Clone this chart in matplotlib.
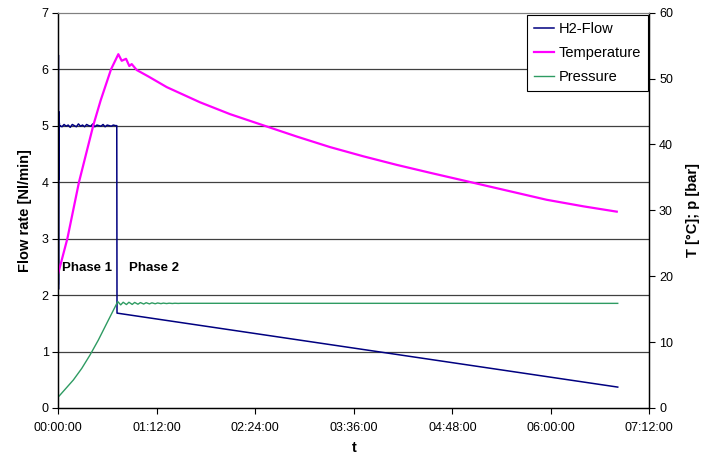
import numpy as np
import matplotlib
matplotlib.use("Agg")
import matplotlib.pyplot as plt

plt.rcParams['font.family'] = ['Liberation Sans', 'DejaVu Sans']

# time in hours
flow_t = [0.0, 0.001, 0.002, 0.004, 0.006, 0.008, 0.010, 0.012, 0.015,
          0.02, 0.045, 0.07, 0.095, 0.12, 0.145, 0.17, 0.195, 0.22, 0.245,
          0.27, 0.295, 0.32, 0.345, 0.37, 0.395, 0.42, 0.445, 0.47, 0.495,
          0.52, 0.545, 0.57, 0.595, 0.62, 0.645, 0.67, 0.695, 0.712,
          0.715, 6.815]
flow = [2.2, 6.25, 2.1, 5.25, 4.05, 5.1, 4.95, 5.05, 4.98,
        5.0, 4.98, 5.02, 4.99, 5.01, 4.97, 5.02, 5.0, 4.98, 5.03,
        4.99, 5.01, 4.98, 5.02, 5.0, 4.99, 5.03, 4.98, 5.01, 5.0,
        4.99, 5.02, 4.98, 5.01, 5.0, 4.99, 5.01, 5.0, 5.0,
        1.68, 0.37]

temp_t = [0.0, 0.11, 0.252, 0.426, 0.516, 0.642, 0.731, 0.772, 0.825,
          0.865, 0.894, 0.955, 1.1, 1.321, 1.726, 2.092, 2.498, 2.905,
          3.31, 3.716, 4.123, 4.529, 5.016, 5.95, 6.4, 6.803]
temp = [20.5, 25.7, 34.3, 42.9, 46.7, 51.4, 53.7, 52.7, 53.0,
        51.9, 52.2, 51.3, 50.3, 48.7, 46.4, 44.6, 42.9, 41.2,
        39.6, 38.2, 36.9, 35.7, 34.3, 31.6, 30.6, 29.8]

pres_t = [0.009, 0.183, 0.285, 0.386, 0.487, 0.59, 0.724, 0.76, 0.79,
          0.83, 0.86, 0.9, 0.93, 0.97, 1.0, 1.04, 1.07, 1.11, 1.14, 1.18,
          1.21, 1.25, 1.28, 1.32, 1.35, 1.39, 1.42, 1.46, 1.49, 6.815]
pres = [1.8, 4.25, 6.0, 8.04, 10.3, 12.85, 16.15, 15.65, 16.05,
        15.7, 16.05, 15.72, 16.02, 15.75, 16.0, 15.78, 15.98, 15.8, 15.96,
        15.82, 15.94, 15.84, 15.92, 15.85, 15.91, 15.86, 15.9, 15.87, 15.89,
        15.88]

xticks = [0, 1.2, 2.4, 3.6, 4.8, 6.0, 7.2]
xlabels = ['00:00:00', '01:12:00', '02:24:00', '03:36:00', '04:48:00',
           '06:00:00', '07:12:00']

fig = plt.figure(figsize=(7.01, 4.58), dpi=100)
ax = fig.add_axes([0.0832, 0.1092, 0.8431, 0.8631])
ax2 = ax.twinx()

ax.set_xlim(0, 7.2)
ax.set_ylim(0, 7)
ax2.set_ylim(0, 60)
ax.set_xticks(xticks)
ax.set_xticklabels(xlabels)
ax.set_yticks(range(0, 8))
ax2.set_yticks(range(0, 70, 10))

for a in (ax, ax2):
    a.tick_params(direction='out', length=4, width=0.8, labelsize=9, pad=3)
    a.spines['top'].set_color('#808080')
    a.spines['left'].set_linewidth(0.9)
    a.spines['right'].set_linewidth(0.9)
    a.spines['bottom'].set_linewidth(0.9)
ax.tick_params(axis='x', pad=6)

for v in range(1, 7):
    ax.axhline(v, color='#404040', lw=0.9, zorder=0)

l1, = ax.plot(flow_t, flow, color='#000080', lw=1.1, label='H2-Flow')
l2, = ax2.plot(temp_t, temp, color='#FF00FF', lw=1.6, label='Temperature')
l3, = ax2.plot(pres_t, pres, color='#2E9B62', lw=1.0, label='Pressure')

ax.text(0.045, 2.48, 'Phase 1', fontsize=9.5, fontweight='bold',
        va='center', ha='left')
ax.text(0.86, 2.48, 'Phase 2', fontsize=9.5, fontweight='bold',
        va='center', ha='left')

ax.set_xlabel('t', fontsize=10.5, fontweight='bold', labelpad=5)
ax.set_ylabel('Flow rate [Nl/min]', fontsize=10.5, fontweight='bold', labelpad=7)
ax2.set_ylabel('T [°C]; p [bar]', fontsize=10.5, fontweight='bold', labelpad=9)

leg = ax2.legend(handles=[l1, l2, l3], loc='upper right',
                 bbox_to_anchor=(0.997, 0.994), borderaxespad=0,
                 fontsize=10.5, handlelength=1.4, handletextpad=0.3,
                 labelspacing=0.7, fancybox=False, framealpha=1,
                 edgecolor='black', borderpad=0.45)
leg.get_frame().set_linewidth(0.8)

fig.savefig('out.png', dpi=100)
